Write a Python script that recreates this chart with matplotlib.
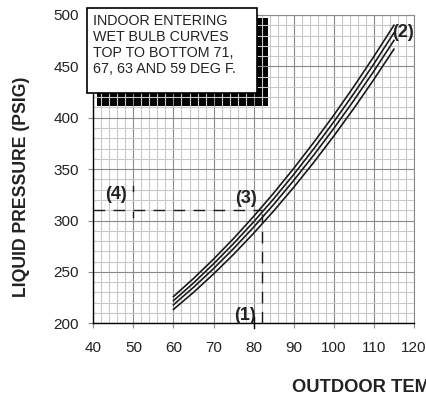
import numpy as np
import matplotlib
matplotlib.use('Agg')
import matplotlib.pyplot as plt
from matplotlib.patches import Rectangle

plt.rcParams['font.family'] = ['Liberation Sans', 'DejaVu Sans']

# ---- data ----
outdoor_temp = [60, 65, 70, 75, 80, 85, 90, 95, 100, 105, 110, 115]
wb71 = [226.0, 243.6, 262.4, 282.5, 304.0, 326.7, 350.7, 376.0, 402.5, 430.4, 459.6, 490.0]
wb67 = [222.0, 239.2, 257.8, 277.6, 298.7, 321.1, 344.8, 369.8, 396.0, 423.6, 452.4, 482.6]
wb63 = [218.0, 235.0, 253.2, 272.7, 293.5, 315.6, 339.0, 363.7, 389.6, 416.9, 445.4, 475.2]
wb59 = [213.5, 230.1, 248.0, 267.1, 287.6, 309.3, 332.3, 356.6, 382.2, 409.1, 437.3, 466.7]
x_ticks = [40, 50, 60, 70, 80, 90, 100, 110, 120]
y_ticks = [200, 250, 300, 350, 400, 450, 500]
example_temp = 82
example_press = 310
box_lines = ["INDOOR ENTERING", "WET BULB CURVES", "TOP TO BOTTOM 71,", "67, 63 AND 59 DEG F."]

fig = plt.figure(figsize=(4.27, 4.0), dpi=100)
ax = fig.add_axes([0.2185, 0.1918, 0.751, 0.7708])
ax.set_xlim(40, 120)
ax.set_ylim(200, 500)
ax.set_xticks(x_ticks)
ax.set_yticks(y_ticks)
ax.set_xticks(np.arange(40, 121, 2), minor=True)
ax.set_yticks(np.arange(200, 501, 10), minor=True)
ax.grid(which='minor', color='#c8c8c8', lw=0.8, zorder=1)
ax.grid(which='major', color='#8a8a8a', lw=0.8, zorder=1)
ax.tick_params(which='minor', length=0)
ax.tick_params(which='major', length=3.5, width=0.8, color='#888888',
               labelsize=11, labelcolor='#222222')
ax.tick_params(axis='x', pad=9)
ax.tick_params(axis='y', pad=7)
for s in ['top', 'right']:
    ax.spines[s].set_color('#8a8a8a')
    ax.spines[s].set_linewidth(0.8)
for s in ['left', 'bottom']:
    ax.spines[s].set_color('black')
    ax.spines[s].set_linewidth(1.0)

# shadow behind grid
ax.add_patch(Rectangle((0.0115, 0.705), 0.5335, 0.285, transform=ax.transAxes,
                       facecolor='black', edgecolor='none', zorder=0.5))

for series in [wb71, wb67, wb63, wb59]:
    ax.plot(outdoor_temp, series, color='#1a1a1a', lw=1.2, zorder=3)

dash = (0, (8.4, 6.0))
ax.plot([40, example_temp], [example_press, example_press], color='#1a1a1a', lw=1.0, linestyle=dash, zorder=3)
ax.plot([example_temp, example_temp], [200, example_press - 4], color='#1a1a1a', lw=1.0, linestyle=dash, zorder=3)
ax.plot([50, 50], [329, 334], color='#1a1a1a', lw=1.0, zorder=3)
ax.plot([50, 50], [303, 308], color='#1a1a1a', lw=1.0, zorder=3)
ax.plot([80, 80], [195, 206], color='black', lw=1.0, zorder=3, clip_on=False)

bold = dict(fontsize=13, fontweight='bold', color='#222222', ha='center', va='center', zorder=4)
ax.text(45.6, 325, "(4)", **bold)
ax.text(78.2, 321, "(3)", **bold)
ax.text(77.8, 207.5, "(1)", **bold)
ax.text(117.3, 483, "(2)", **bold)

# text box
ax.add_patch(Rectangle((-0.0196, 0.747), 0.5296, 0.2757, transform=ax.transAxes,
                       facecolor='white', edgecolor='black', lw=1.2, zorder=10, clip_on=False))
ax.text(0.0, 1.004, "\n".join(box_lines), transform=ax.transAxes, fontsize=10.3,
        color='#222222', ha='left', va='top', linespacing=1.2, zorder=11)

fig.text(22 / 427, 1 - 187 / 400, "LIQUID PRESSURE (PSIG)", rotation=90, fontsize=12.7,
         fontweight='bold', color='#222222', ha='center', va='center')
fig.text(292 / 427, 1 - 387 / 400, "OUTDOOR TEMPERATURE (DEG F)", fontsize=13.2,
         fontweight='bold', color='#222222', ha='left', va='center')

fig.savefig('out.png', dpi=100)
